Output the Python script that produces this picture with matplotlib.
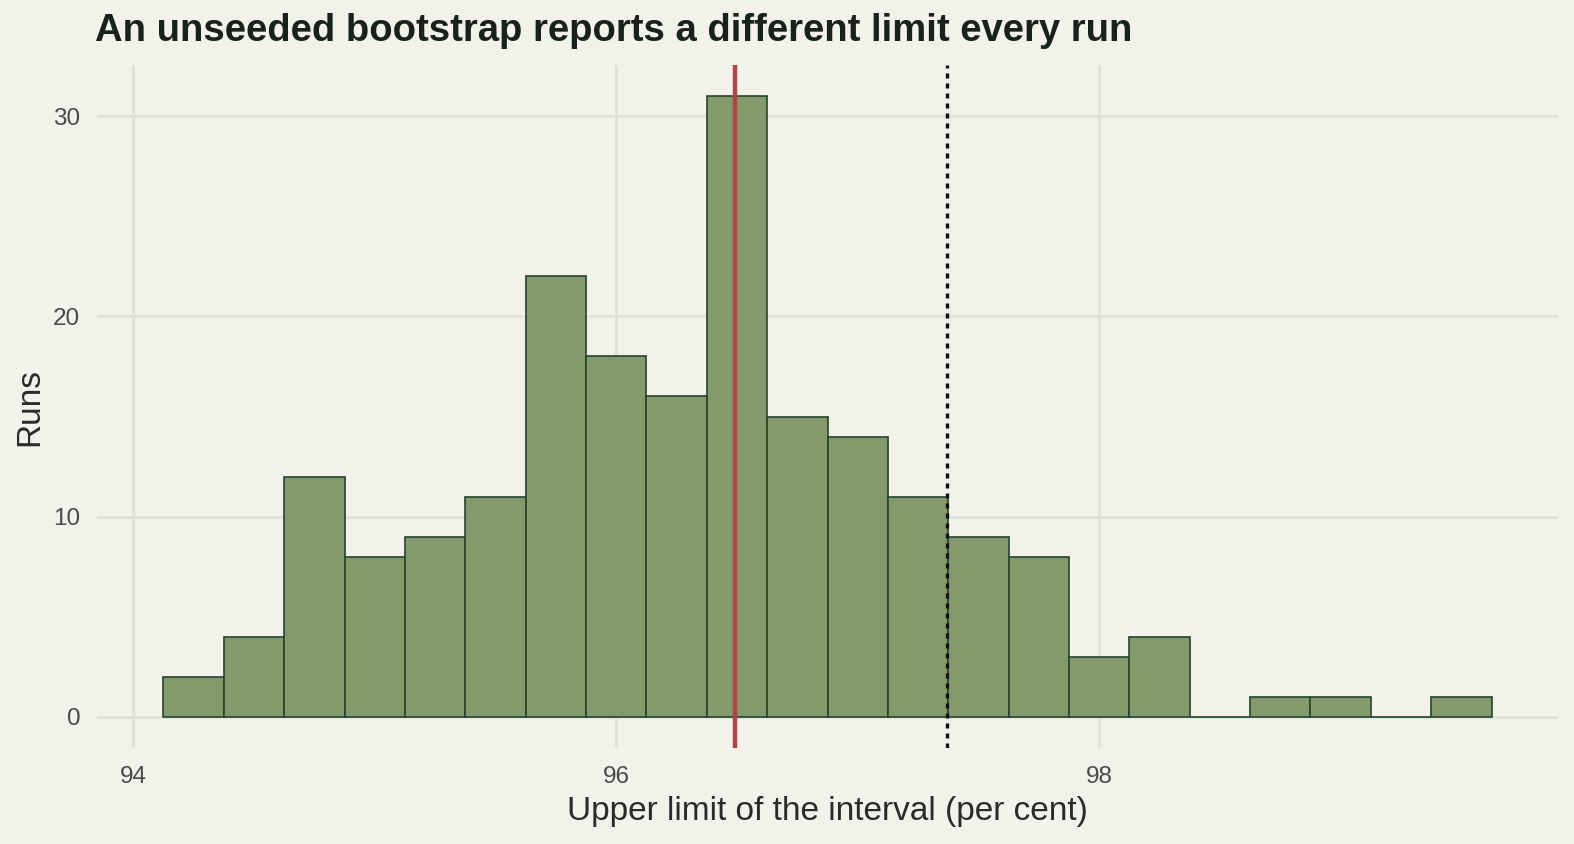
import matplotlib
matplotlib.use("Agg")
import matplotlib.pyplot as plt
import numpy as np

# Data
bin_start = 94.125
bin_width = 0.25
counts = [2, 4, 12, 8, 9, 11, 22, 18, 16, 31, 15, 14, 11, 9, 8, 3, 4, 0, 1, 1, 0, 1]
red_line = 96.49
dotted_line = 97.37
x_ticks = [94, 96, 98]
y_ticks = [0, 10, 20, 30]
title = "An unseeded bootstrap reports a different limit every run"
xlabel = "Upper limit of the interval (per cent)"
ylabel = "Runs"

bg = "#f2f1ea"
grid_c = "#e2e1d8"
fill_c = "#84996c"
edge_c = "#24442c"

plt.rcParams['font.family'] = ['Liberation Sans', 'DejaVu Sans']

fig = plt.figure(figsize=(15.74, 8.44), dpi=100, facecolor=bg)
ax = fig.add_axes([97/1574, 1-748/844, (1558-97)/1574, (748-65)/844])
ax.set_facecolor(bg)

edges = bin_start + bin_width*np.arange(len(counts)+1)
ax.bar(edges[:-1], counts, width=bin_width, align='edge', color=fill_c,
       edgecolor=edge_c, linewidth=1.2, zorder=2)

ax.axvline(red_line, color="#b04444", linewidth=3.2, zorder=3)
ax.axvline(dotted_line, color="#111111", linewidth=2.4, linestyle=(0, (1.5, 1.5)), zorder=3)

lo, hi = edges[0], edges[-1]
span = hi - lo
ax.set_xlim(lo - 0.05*span, hi + 0.05*span)
ymax = max(counts)
ax.set_ylim(-0.05*ymax, ymax*1.05)

ax.set_xticks(x_ticks)
ax.set_yticks(y_ticks)
ax.grid(True, color=grid_c, linewidth=2.0, zorder=0)
ax.set_axisbelow(True)
for s in ax.spines.values():
    s.set_visible(False)
ax.tick_params(length=0, labelsize=17.5, labelcolor="#4a4a4a")
ax.tick_params(axis='x', pad=13)
ax.tick_params(axis='y', pad=12)

ax.set_xlabel(xlabel, fontsize=24, color="#2a2a2a", labelpad=6)
ax.set_ylabel(ylabel, fontsize=24, color="#2a2a2a", labelpad=6)
fig.text(95/1574, 1-31/844, title, fontsize=27.5, fontweight='bold', color="#17221a",
         ha='left', va='center')

fig.savefig("out.png", dpi=100, facecolor=bg)
